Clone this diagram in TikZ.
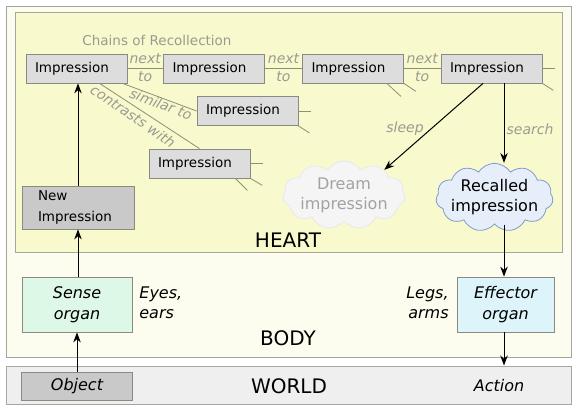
\documentclass[tikz,border=0pt]{standalone}
\usepackage{fontspec}
\setmainfont{DejaVu Sans}
\usetikzlibrary{shapes.symbols,arrows.meta,calc}
\definecolor{bodyfill}{HTML}{FDFDEF}
\definecolor{heartfill}{HTML}{F9F9CE}
\definecolor{worldfill}{HTML}{EFEFEF}
\definecolor{framegray}{HTML}{A6A6A0}
\definecolor{impfill}{HTML}{DDDDDD}
\definecolor{impdraw}{HTML}{8A8A80}
\definecolor{newfill}{HTML}{C9C9C9}
\definecolor{sensefill}{HTML}{DDF8E6}
\definecolor{efffill}{HTML}{DDF4FA}
\definecolor{labgray}{HTML}{9A9A90}
\definecolor{linkgray}{HTML}{8E8E78}
\definecolor{dreamfill}{HTML}{F5F5F5}
\definecolor{dreamdraw}{HTML}{E8E8E8}
\definecolor{dreamtext}{HTML}{A2A2A2}
\definecolor{recfill}{HTML}{E6EEFA}
\definecolor{recdraw}{HTML}{7F9CCB}
\begin{document}
\begin{tikzpicture}[x=1pt,y=-1pt,
  font=\fontsize{13.5}{16}\selectfont,
  region/.style={draw=framegray,line width=1pt,inner sep=0pt},
  imp/.style={draw=impdraw,fill=impfill,line width=0.8pt,minimum width=101pt,minimum height=29pt,inner sep=0pt,text width=83pt,align=left},
  organ/.style={draw=impdraw,line width=0.8pt,inner sep=0pt,align=center,font=\fontsize{16}{20.5}\selectfont\itshape},
  link/.style={draw=linkgray,line width=0.8pt},
  lab/.style={text=labgray,font=\fontsize{14}{16}\selectfont\itshape,inner sep=1pt},
  arr/.style={draw=black,line width=1pt,-{Stealth[length=10pt,width=7.5pt]}},
  big/.style={font=\fontsize{20}{22}\selectfont},
  cloudbox/.style={cloud,cloud puffs=11,cloud puff arc=115,aspect=1.9,inner xsep=-7pt,inner ysep=-6pt,line width=0.8pt,align=center,font=\fontsize{16}{20}\selectfont}
]
\useasboundingbox (0,0) rectangle (580,410);
% regions
\node[region,fill=bodyfill,minimum width=565pt,minimum height=351pt] (body) at (288.5,181.5) {};
\node[region,fill=heartfill,minimum width=547pt,minimum height=240pt] (heart) at (288.5,132.5) {};
\node[region,fill=worldfill,minimum width=565pt,minimum height=38pt] (world) at (288.5,385) {};
\node[big] (heartlab) at (288,240) {HEART};
\node[big] (bodylab) at (288,338) {BODY};
\node[big] (worldlab) at (289,386) {WORLD};
\node[text=labgray] (chains) at (157,40) {Chains of Recollection};
% impressions
\node[imp] (imp1) at (76.5,68.5) {Impression};
\node[imp] (imp2) at (214,68.5) {Impression};
\node[imp] (imp3) at (353,68.5) {Impression};
\node[imp] (imp4) at (491.5,68.5) {Impression};
\node[imp] (imp5) at (247.5,111) {Impression};
\node[imp] (imp6) at (199.5,163.5) {Impression};
\node[draw=impdraw,fill=newfill,line width=0.8pt,minimum width=112pt,minimum height=43pt,inner sep=0pt,text width=80pt,align=left,font=\fontsize{13.5}{21}\selectfont] (newimp) at (78,207.5) {New\\Impression};
% organs
\node[organ,fill=sensefill,minimum width=110pt,minimum height=55pt] (sense) at (77,304.5) {Sense\\organ};
\node[organ,fill=efffill,minimum width=97pt,minimum height=55pt] (effector) at (505.5,304.5) {Effector\\organ};
\node[organ,draw=impdraw,fill=newfill,minimum width=111pt,minimum height=28pt] (object) at (77,386) {Object};
\node[organ,draw=none,anchor=west,align=left] (eyes) at (139,303) {Eyes,\\ears};
\node[organ,draw=none,anchor=east,align=right] (legs) at (449,303) {Legs,\\arms};
\node[font=\fontsize{16}{18}\selectfont\itshape] (action) at (499,386) {Action};
% clouds
\node[cloudbox,draw=dreamdraw,fill=dreamfill,text=dreamtext,minimum width=122pt,minimum height=64pt] (dream) at (344,195) {Dream\\impression};
\node[cloudbox,draw=recdraw,fill=recfill,minimum width=117pt,minimum height=59pt] (recalled) at (494.5,197.5) {Recalled\\impression};
% chain links
\draw[link] (imp1.east) -- (imp2.west) node[lab,midway,above,yshift=3pt] {next} node[lab,midway,below,yshift=-2pt] {to};
\draw[link] (imp2.east) -- (imp3.west) node[lab,midway,above,yshift=3pt] {next} node[lab,midway,below,yshift=-2pt] {to};
\draw[link] (imp3.east) -- (imp4.west) node[lab,midway,above,yshift=3pt] {next} node[lab,midway,below,yshift=-2pt] {to};
\draw[link] ([xshift=97pt]imp1.south west) -- (imp5.west);
\draw[link] ([xshift=74pt]imp1.south west) -- (imp6.north);
\node[lab,rotate=-21] (simlab) at (161,104) {similar to};
\node[lab,rotate=-34.5] (conlab) at (133,116) {contrasts with};
% stubs
\draw[link] ([xshift=-17pt]imp3.south east) -- +(14,13);
\draw[link] (imp3.south east) -- +(12,8);
\draw[link] (imp4.east) -- +(13,0);
\draw[link] (imp4.south east) -- +(11,7);
\draw[link] (imp5.east) -- +(13,0);
\draw[link] (imp5.south east) -- +(11,7);
\draw[link] (imp6.east) -- +(13,0);
\draw[link] (imp6.south east) -- +(12,7);
\draw[link] ([xshift=-15pt]imp6.south east) -- +(12,12);
% arrows
\draw[arr] (object.north) -- (sense.south);
\draw[arr] (sense.north -| newimp.south) -- (newimp.south);
\draw[arr] (newimp.north) -- (newimp.north |- imp1.south);
\coordinate (sl) at ([xshift=-8.5pt]imp4.south);
\coordinate (se) at ([xshift=12.5pt]imp4.south);
\draw[arr] (sl) -- (dream.32);
\draw[arr] (se) -- (se |- recalled.north);
\node[lab] (sleeplab) at (405,129) {sleep};
\node[lab] (searchlab) at (530,129) {search};
\draw[arr] (recalled.south -| se) -- (effector.north -| se);
\draw[arr] (effector.south -| se) -- (se |- world.north);
\end{tikzpicture}
\end{document}
